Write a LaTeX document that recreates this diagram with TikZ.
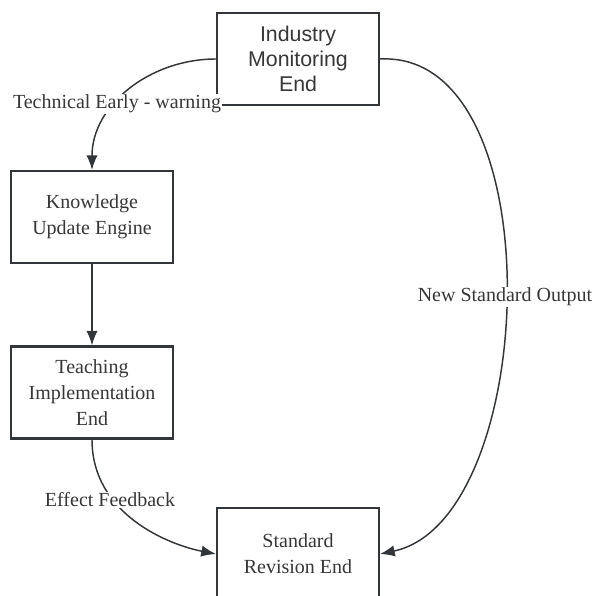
\documentclass[tikz,border=0pt]{standalone}
\usepackage{fontspec}
\setmainfont{Liberation Serif}
\newfontfamily\monfont{Liberation Sans}
\usetikzlibrary{arrows.meta}
\definecolor{line_color}{RGB}{50, 53, 57}
\definecolor{text_color}{RGB}{55, 55, 55}

\begin{document}
\begin{tikzpicture}[x=0.75pt, y=-0.75pt,
    font=\fontsize{15}{19.5}\selectfont, text=text_color,
    box/.style={draw=line_color, line width=1.6pt, fill=white, align=center,
      minimum width=121.5pt, minimum height=69pt, inner sep=2pt},
    link/.style={draw=line_color, line width=1.1pt, -{Latex[length=11pt, width=8.5pt]}},
    lbl/.style={fill=white, inner sep=1pt}]

      \useasboundingbox (0,0) rectangle (595,596);

      % 1. CAJAS
      \node[box, font=\monfont\fontsize{16}{18.5}\selectfont] (ind) at (298,59)
        {Industry\\ Monitoring\\ End};
      \node[box] (know) at (92,217) {Knowledge\\ Update Engine};
      \node[box] (teach) at (92,392.5) {Teaching\\ Implementation\\ End};
      \node[box] (rev) at (298,554) {Standard\\ Revision End};

      % 2. CONECTORES
      \draw[link] (ind.west) .. controls (150,59) and (92,105) .. (know.north);
      \draw[link] (know) -- (teach);
      \draw[link] (teach.south) .. controls (92,515) and (170,545) .. (rev.west);
      \draw[link] (ind.east) .. controls (555,50) and (540,520) .. (rev.east);

      % 3. ETIQUETAS
      \node[lbl] (warn) at (117,104) {Technical Early - warning};
      \node[lbl] (feed) at (110,500) {Effect Feedback};
      \node[lbl] (out) at (505,297) {New Standard Output};

    \end{tikzpicture}
\end{document}
